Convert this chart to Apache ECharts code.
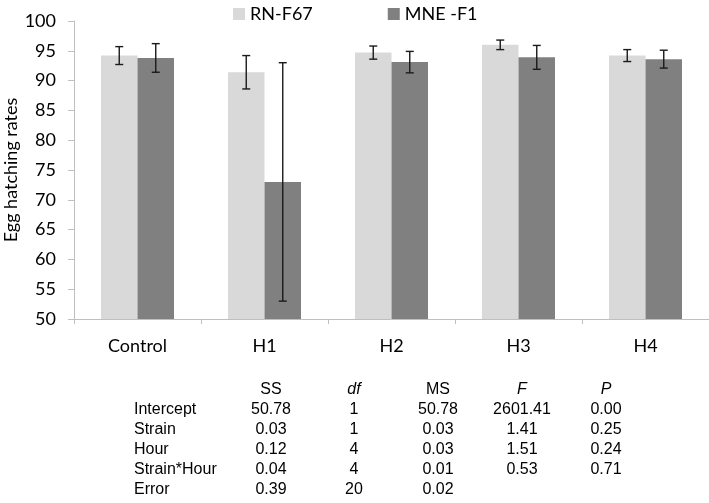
<!DOCTYPE html>
<html>
<head>
<meta charset="utf-8">
<script src="https://cdn.jsdelivr.net/npm/echarts@6/dist/echarts.min.js"></script>
<style>
html,body{margin:0;padding:0;background:#fff;}
#chart{width:709px;height:503px;}
</style>
</head>
<body>
<div id="chart"></div>
<script>
// ---- data ----
var categories = ['Control', 'H1', 'H2', 'H3', 'H4'];
var seriesNames = ['RN-F67', 'MNE -F1'];
var rnF67 = [94.2, 91.4, 94.7, 96.0, 94.2];
var rnF67Err = [1.5, 2.8, 1.1, 0.8, 1.0];
var mneF1 = [93.8, 73.0, 93.1, 93.9, 93.6];
var mneF1Err = [2.4, 20.0, 1.8, 2.0, 1.5];
var yTicks = [50, 55, 60, 65, 70, 75, 80, 85, 90, 95, 100];

var tableHeaders = ['SS', 'df', 'MS', 'F', 'P'];
var tableHeaderItalic = [false, true, false, true, true];
var tableRowLabels = ['Intercept', 'Strain', 'Hour', 'Strain*Hour', 'Error'];
var tableSS = ['50.78', '0.03', '0.12', '0.04', '0.39'];
var tableDf = ['1', '1', '4', '4', '20'];
var tableMS = ['50.78', '0.03', '0.03', '0.01', '0.02'];
var tableF = ['2601.41', '1.41', '1.51', '0.53', ''];
var tableP = ['0.00', '0.25', '0.24', '0.71', ''];

// ---- layout ----
var BAR_W = 36.5;
var FONT = 'Lato, "Open Sans", sans-serif';
var TFONT = '"Liberation Sans", Arial, sans-serif';
var TSIZE = 16;
var colX = [271, 354, 438, 522, 606];
var labelX = 134;
var headerY = 390;
var rowY0 = 410, rowStep = 20;

var chart = echarts.init(document.getElementById('chart'));

function errSeries(means, errs, sign, name) {
  var data = means.map(function (m, i) { return [i, m - errs[i], m + errs[i]]; });
  return {
    type: 'custom',
    name: name + ' err',
    z: 10,
    silent: true,
    renderItem: function (params, api) {
      var lo = api.coord([api.value(0), api.value(1)]);
      var hi = api.coord([api.value(0), api.value(2)]);
      var x = lo[0] + sign * BAR_W / 2;
      var cap = 4;
      var st = { stroke: '#1a1a1a', lineWidth: 1.4 };
      return {
        type: 'group',
        children: [
          { type: 'line', shape: { x1: x, y1: lo[1], x2: x, y2: hi[1] }, style: st },
          { type: 'line', shape: { x1: x - cap, y1: lo[1], x2: x + cap, y2: lo[1] }, style: st },
          { type: 'line', shape: { x1: x - cap, y1: hi[1], x2: x + cap, y2: hi[1] }, style: st }
        ]
      };
    },
    encode: { x: 0, y: [1, 2] },
    data: data
  };
}

var graphics = [];
tableHeaders.forEach(function (h, j) {
  graphics.push({
    type: 'text',
    style: { text: h, x: colX[j], y: headerY, fontSize: TSIZE, fontFamily: TFONT,
      fontStyle: tableHeaderItalic[j] ? 'italic' : 'normal',
      fill: '#000', textAlign: 'center', textVerticalAlign: 'middle' }
  });
});
var cols = [tableSS, tableDf, tableMS, tableF, tableP];
tableRowLabels.forEach(function (lab, i) {
  var y = rowY0 + i * rowStep;
  graphics.push({
    type: 'text',
    style: { text: lab, x: labelX, y: y, fontSize: TSIZE, fontFamily: TFONT, fill: '#000',
      textAlign: 'left', textVerticalAlign: 'middle' }
  });
  cols.forEach(function (c, j) {
    if (!c[i]) return;
    graphics.push({
      type: 'text',
      style: { text: c[i], x: colX[j], y: y, fontSize: TSIZE, fontFamily: TFONT, fill: '#000',
        textAlign: 'center', textVerticalAlign: 'middle' }
    });
  });
});

chart.setOption({
  animation: false,
  backgroundColor: '#ffffff',
  textStyle: { fontFamily: FONT },
  legend: {
    data: seriesNames,
    left: 228, top: 0,
    itemWidth: 12, itemHeight: 12, itemGap: 75,
    icon: 'rect',
    textStyle: { fontSize: 18, color: '#000', fontFamily: FONT }
  },
  grid: { left: 74, right: 0, top: 21, bottom: 184, containLabel: false, outerBoundsMode: 'none' },
  xAxis: {
    type: 'category',
    data: categories,
    axisLine: { lineStyle: { color: '#bfbfbf', width: 1 } },
    axisTick: { show: true, length: 5, lineStyle: { color: '#bfbfbf' } },
    axisLabel: { fontSize: 18, color: '#000', margin: 18, fontFamily: FONT }
  },
  yAxis: {
    type: 'value',
    min: 50, max: 100, interval: 5,
    name: 'Egg hatching rates',
    nameLocation: 'middle',
    nameGap: 54,
    nameMoveOverlap: false,
    nameTextStyle: { fontSize: 18, color: '#000', fontFamily: FONT },
    axisLine: { show: true, lineStyle: { color: '#bfbfbf', width: 1 } },
    axisTick: { show: true, length: 6, lineStyle: { color: '#bfbfbf' } },
    splitLine: { show: false },
    axisLabel: { fontSize: 18, color: '#000', margin: 18, fontFamily: FONT,
      formatter: function (v) { return yTicks.indexOf(v) >= 0 ? String(v) : ''; } }
  },
  series: [
    { type: 'bar', name: seriesNames[0], data: rnF67, barWidth: BAR_W, barGap: '0%',
      itemStyle: { color: '#d9d9d9' } },
    { type: 'bar', name: seriesNames[1], data: mneF1, barWidth: BAR_W, barGap: '0%',
      itemStyle: { color: '#808080' } },
    errSeries(rnF67, rnF67Err, -1, seriesNames[0]),
    errSeries(mneF1, mneF1Err, 1, seriesNames[1])
  ],
  graphic: graphics
});
</script>
</body>
</html>
